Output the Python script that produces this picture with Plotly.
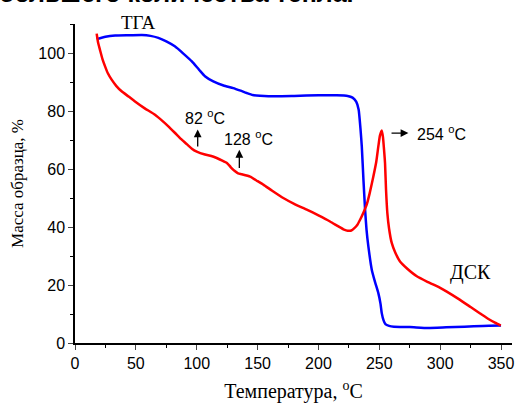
import plotly.graph_objects as go

# TGA curve (blue)
tga_t = [17.8, 25, 33, 45, 55, 62, 68.5, 75, 82, 89, 96, 102, 107, 113.6, 122, 130, 136, 141, 146, 152,
         165, 180, 200, 215, 224, 228, 231, 233, 234.5, 235.6, 237, 238.3, 239.5, 241, 243.8, 246.5,
         249.2, 251, 252, 253.5, 255, 258, 262, 275, 290, 305, 320, 335, 350]
tga_m = [104.8, 105.6, 106, 106.1, 106.2, 105.9, 105.2, 104, 102.3, 99.8, 97.1, 94.2, 91.9, 90.2, 88.8,
         87.9, 87, 86.2, 85.5, 85.3, 85.1, 85.2, 85.4, 85.4, 85.2, 84.6, 83.2, 80.5, 74, 67.8, 56, 46,
         39, 33.3, 25.3, 21, 17.2, 13.5, 10.3, 7.8, 6.5, 5.9, 5.6, 5.5, 5.2, 5.4, 5.6, 5.9, 6.0]

# DSC curve (red)
dsc_t = [17.8, 19, 20.5, 22.5, 24.7, 27, 30.1, 34, 38.3, 44, 49.3, 57, 65.7, 72, 76.7, 82, 87.7, 92, 96,
         100, 106.8, 112, 116.4, 121, 125, 128, 131, 134, 137, 143.8, 150, 154.7, 162, 171.1, 180, 190.4,
         200, 209.5, 216, 221, 224, 227, 229.5, 232, 234.2, 237, 239.7, 242, 245.1, 247.5, 249.2, 250.5,
         252, 253, 254, 254.7, 255.5, 256.6, 258, 260.2, 263, 267, 273, 280.8, 290, 300, 305.4, 315, 325,
         332.8, 340, 345, 349.8]
dsc_v = [106.7, 103.5, 101.1, 98, 95.4, 93, 90.8, 88.6, 86.8, 85, 83.3, 81, 78.7, 76.5, 74.7, 72.5, 70.1,
         68.5, 67, 66, 65, 64.5, 63.8, 62.9, 62, 60.6, 59.4, 58.5, 58.2, 57.4, 55.8, 54.6, 52.5, 50, 48, 46,
         44, 41.9, 40.3, 39.1, 38.7, 38.8, 39.6, 40.8, 42.5, 45, 47.8, 51.5, 57.4, 62.5, 67.8, 71.5, 73.3,
         71, 66, 62, 53, 44.8, 39.5, 34.5, 31.3, 28.1, 25.6, 23, 21, 19, 17.7, 15.2, 12.4, 10.2, 8.2, 7,
         6.0]

x_ticks = [0, 50, 100, 150, 200, 250, 300, 350]
y_ticks = [0, 20, 40, 60, 80, 100]

fig = go.Figure()
fig.add_trace(go.Scatter(x=tga_t, y=tga_m, mode="lines",
                         line=dict(color="#0000FF", width=2.5, shape="spline", smoothing=0.5),
                         showlegend=False, hoverinfo="skip"))
fig.add_trace(go.Scatter(x=dsc_t, y=dsc_v, mode="lines",
                         line=dict(color="#FF0000", width=2.5, shape="spline", smoothing=0.5),
                         showlegend=False, hoverinfo="skip"))

lab_font = dict(family="Liberation Sans, Arial", size=16, color="black")
ser_font = dict(family="Liberation Serif, Times New Roman", size=19, color="black")

# arrows
arrows = [((100.8, 73.6), (100.8, 67.2)), ((135, 66.6), (135, 59.8)), ((273.9, 72.4), (258.8, 72.4))]
for (hx, hy), (tx, ty) in arrows:
    fig.add_annotation(x=hx, y=hy, ax=tx, ay=ty, xref="x", yref="y", axref="x", ayref="y",
                       text="", showarrow=True, arrowhead=2, arrowsize=1.2, arrowwidth=1.3,
                       arrowcolor="black")

fig.add_annotation(x=106.8, y=78.1, text="82 <sup>o</sup>C", showarrow=False, font=lab_font)
fig.add_annotation(x=142.4, y=70.6, text="128 <sup>o</sup>C", showarrow=False, font=lab_font)
fig.add_annotation(x=279.4, y=72.4, text="254 <sup>o</sup>C", showarrow=False, font=lab_font,
                   xanchor="left")
fig.add_annotation(x=324.5, y=24.2, text="ДСК", showarrow=False, font=dict(ser_font, size=20))
fig.add_annotation(x=52, y=1.0, xref="x", yref="paper", yshift=2, text="ТГА", showarrow=False,
                   font=ser_font, yanchor="middle")

# cut-off text line from the source page
fig.add_annotation(x=0, y=1, xref="paper", yref="paper", xshift=-78, yshift=15,
                   text="<b>большего количества тепла.</b>", showarrow=False,
                   font=dict(family="Liberation Sans, Arial", size=25, color="black"),
                   xanchor="left", yanchor="bottom")

fig.update_xaxes(range=[0, 359], tickvals=x_ticks, ticks="outside", ticklen=5, tickwidth=1.2,
                 showline=True, linecolor="black", linewidth=1.5, showgrid=False, zeroline=False,
                 tickfont=lab_font, automargin=False,
                 minor=dict(dtick=25, tick0=0, ticks="outside", ticklen=3, tickwidth=1.2, tickcolor="black"),
                 title=dict(text="Температура, <sup>o</sup>C", font=dict(ser_font, size=20), standoff=15))
fig.update_yaxes(range=[0, 110], tickvals=y_ticks, ticks="outside", ticklen=5, tickwidth=1.2,
                 showline=True, linecolor="black", linewidth=1.5, showgrid=False, zeroline=False,
                 tickfont=lab_font, automargin=False,
                 minor=dict(dtick=10, tick0=0, ticks="outside", ticklen=3, tickwidth=1.2, tickcolor="black"),
                 title=dict(text="Масса образца, %", font=dict(ser_font, size=17), standoff=10))

fig.update_layout(width=517, height=403, margin=dict(l=75, r=5, t=24, b=60),
                  paper_bgcolor="white", plot_bgcolor="white")

fig.write_html("out.html")
